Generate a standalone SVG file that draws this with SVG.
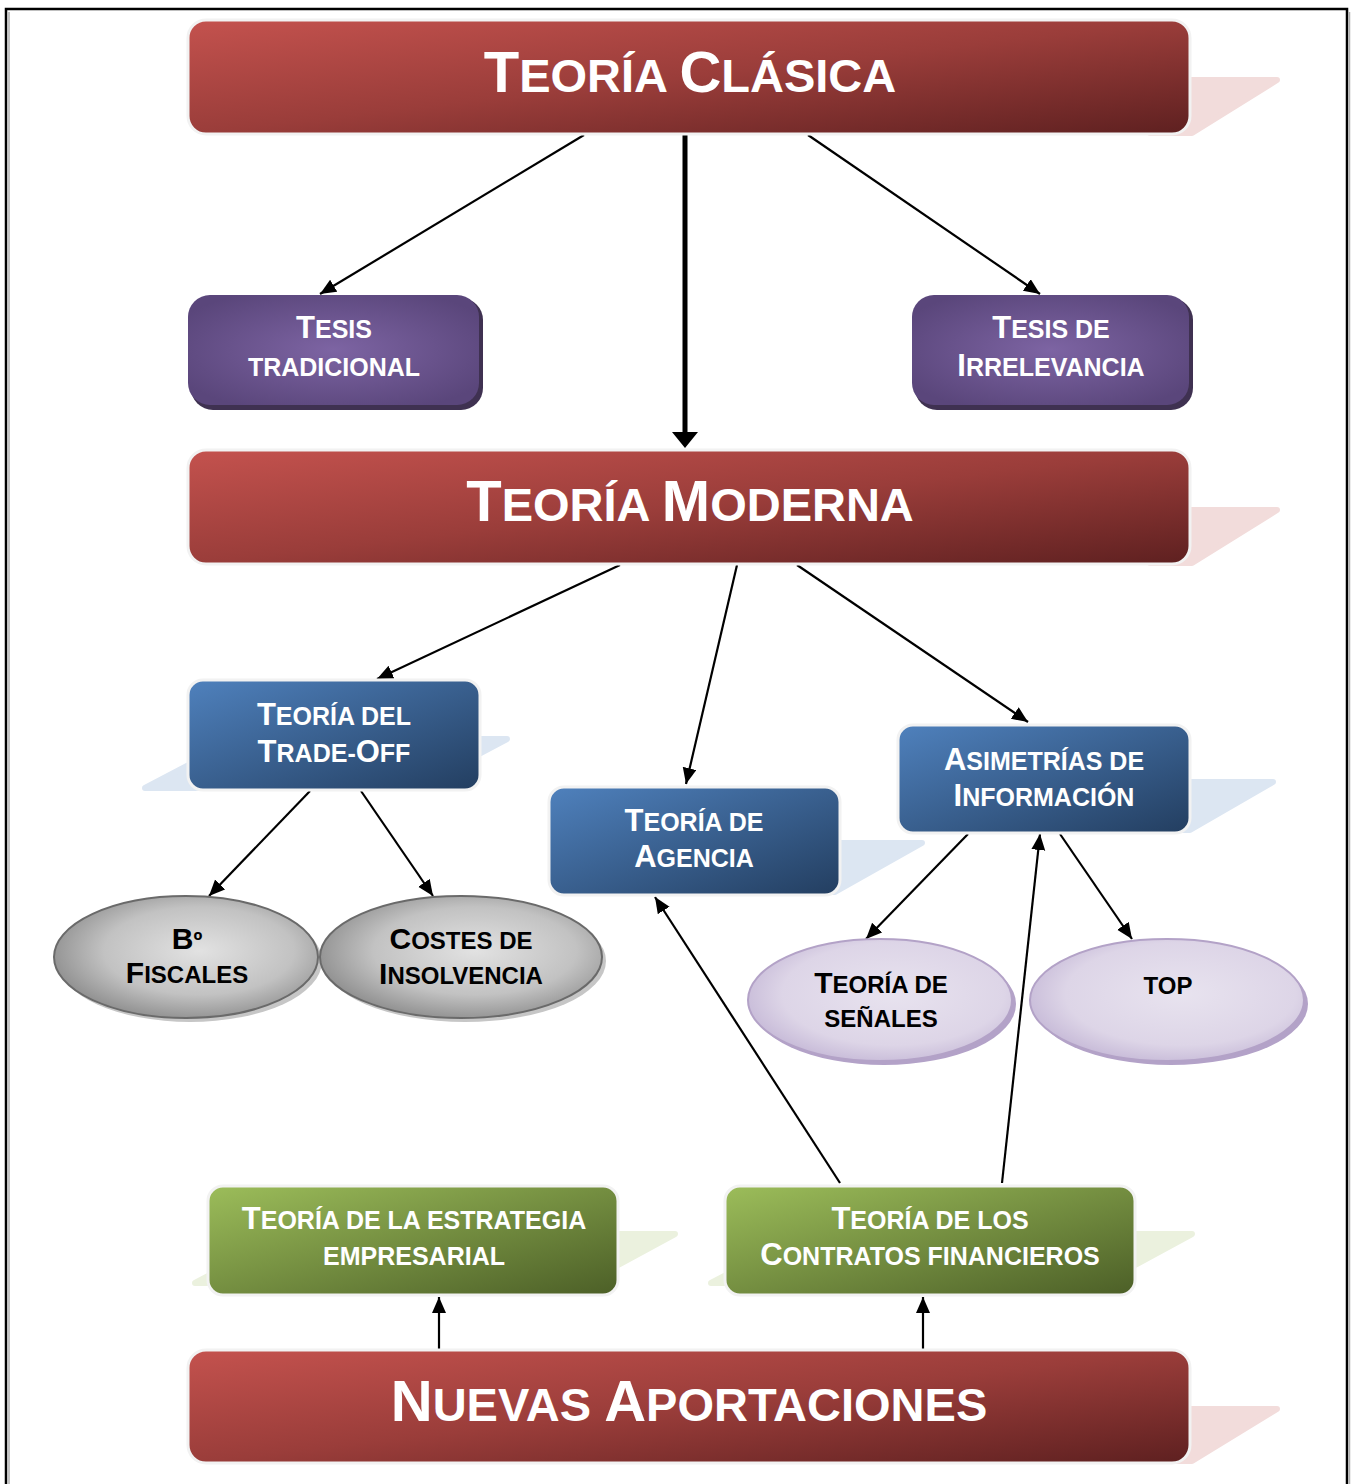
<svg xmlns="http://www.w3.org/2000/svg" width="1354" height="1484" viewBox="0 0 1354 1484">
  <defs>
    <linearGradient id="gRed" x1="0" y1="0" x2="1" y2="1">
      <stop offset="0" stop-color="#c4524e"/>
      <stop offset="0.5" stop-color="#9a3d3a"/>
      <stop offset="1" stop-color="#5e2020"/>
    </linearGradient>
    <linearGradient id="gBlue" x1="0" y1="0" x2="1" y2="1">
      <stop offset="0" stop-color="#4f81bd"/>
      <stop offset="1" stop-color="#233e60"/>
    </linearGradient>
    <linearGradient id="gGreen" x1="0" y1="0" x2="1" y2="1">
      <stop offset="0" stop-color="#9cbd5a"/>
      <stop offset="1" stop-color="#4c5f27"/>
    </linearGradient>
    <radialGradient id="gPurple" cx="0.5" cy="0.5" r="0.6">
      <stop offset="0" stop-color="#7d64a3"/>
      <stop offset="1" stop-color="#5a467b"/>
    </radialGradient>
    <radialGradient id="gGray" cx="0.55" cy="0.45" r="0.6">
      <stop offset="0" stop-color="#e2e2e2"/>
      <stop offset="0.6" stop-color="#c2c2c2"/>
      <stop offset="1" stop-color="#8a8a8a"/>
    </radialGradient>
    <radialGradient id="gLilac" cx="0.55" cy="0.45" r="0.6">
      <stop offset="0" stop-color="#e8e3ef"/>
      <stop offset="0.7" stop-color="#ddd5e7"/>
      <stop offset="1" stop-color="#c4b7d6"/>
    </radialGradient>
    <marker id="arr" markerUnits="userSpaceOnUse" markerWidth="18" markerHeight="16" refX="16" refY="7" orient="auto">
      <path d="M0,0 L16,7 L0,14 z" fill="#000"/>
    </marker>
  </defs>
  <style>
    .t { font-family: "Liberation Sans", Arial, sans-serif; font-weight: bold; text-anchor: middle; }
    .big { font-size: 47px; fill: #fff; }
    .big .c { font-size: 58px; }
    .mid { font-size: 25px; fill: #fff; }
    .mid .c { font-size: 31px; }
    .ell { font-size: 24px; fill: #000; }
    .ell .c { font-size: 30px; }
    .edge { stroke: #f2f2f2; stroke-width: 3; }
    .wire { stroke: #000; stroke-width: 2.2; fill: none; marker-end: url(#arr); }
    .shR { fill: #f2dcdb; stroke: #f2dcdb; stroke-width: 6; stroke-linejoin: round; }
    .shB { fill: #dce6f2; stroke: #dce6f2; stroke-width: 6; stroke-linejoin: round; }
    .shG { fill: #ebf1de; stroke: #ebf1de; stroke-width: 6; stroke-linejoin: round; }
  </style>

  <!-- page frame -->
  <rect x="6" y="9" width="1341" height="1490" fill="#fff" stroke="#000" stroke-width="2.5"/>
  <line x1="9" y1="12" x2="9" y2="1484" stroke="#b0b0b0" stroke-width="1.5"/>
  <line x1="1349.5" y1="12" x2="1349.5" y2="1484" stroke="#b0b0b0" stroke-width="1.5"/>

  <!-- connectors -->
  <g id="connectors">
    <line class="wire" x1="584" y1="135" x2="320" y2="294"/>
    <line x1="685" y1="135" x2="685" y2="434" stroke="#000" stroke-width="5"/>
    <polygon points="672,432 698,432 685,448" fill="#000"/>
    <line class="wire" x1="808" y1="135" x2="1040" y2="294"/>
    <line class="wire" x1="620" y1="565" x2="377" y2="679"/>
    <line class="wire" x1="737" y1="565" x2="686" y2="784"/>
    <line class="wire" x1="797" y1="565" x2="1028" y2="722"/>
    <line class="wire" x1="310" y1="791" x2="209" y2="896"/>
    <line class="wire" x1="361" y1="791" x2="433" y2="896"/>
    <line class="wire" x1="968" y1="834" x2="866" y2="939"/>
    <line class="wire" x1="1060" y1="834" x2="1132" y2="939"/>
    <line class="wire" x1="840" y1="1183" x2="655" y2="897"/>
    <line class="wire" x1="1002" y1="1183" x2="1040" y2="834"/>
    <line class="wire" x1="439" y1="1350" x2="439" y2="1297"/>
    <line class="wire" x1="923" y1="1350" x2="923" y2="1297"/>
  </g>

  <!-- Teoría Clásica -->
  <g id="teoria-clasica">
    <polygon class="shR" points="1150,80 1277,80 1192,133 1150,133"/>
    <rect class="edge" x="188" y="20" width="1002" height="114" rx="18" fill="url(#gRed)"/>
    <text class="t big" x="690" y="92"><tspan class="c">T</tspan>EORÍA <tspan class="c">C</tspan>LÁSICA</text>
  </g>

  <!-- Tesis tradicional -->
  <g id="tesis-tradicional">
    <rect x="191" y="298" width="292" height="112" rx="22" fill="#3f3151"/>
    <rect x="188" y="295" width="291" height="110" rx="22" fill="url(#gPurple)"/>
    <text class="t mid" x="334" y="338"><tspan class="c">T</tspan>ESIS</text>
    <text class="t mid" x="334" y="376">TRADICIONAL</text>
  </g>

  <!-- Tesis de irrelevancia -->
  <g id="tesis-irrelevancia">
    <rect x="915" y="298" width="278" height="112" rx="22" fill="#3f3151"/>
    <rect x="912" y="295" width="277" height="110" rx="22" fill="url(#gPurple)"/>
    <text class="t mid" x="1051" y="338"><tspan class="c">T</tspan>ESIS DE</text>
    <text class="t mid" x="1051" y="376"><tspan class="c">I</tspan>RRELEVANCIA</text>
  </g>

  <!-- Teoría Moderna -->
  <g id="teoria-moderna">
    <polygon class="shR" points="1150,510 1277,510 1192,563 1150,563"/>
    <rect class="edge" x="188" y="450" width="1002" height="114" rx="18" fill="url(#gRed)"/>
    <text class="t big" x="690" y="521"><tspan class="c">T</tspan>EORÍA <tspan class="c">M</tspan>ODERNA</text>
  </g>

  <!-- Teoría del Trade-Off -->
  <g id="trade-off">
    <polygon class="shB" points="238,739 507,739 415,788 145,788"/>
    <rect class="edge" x="188" y="680" width="292" height="110" rx="15" fill="url(#gBlue)"/>
    <text class="t mid" x="334" y="725"><tspan class="c">T</tspan>EORÍA DEL</text>
    <text class="t mid" x="334" y="762"><tspan class="c">T</tspan>RADE-<tspan class="c">O</tspan>FF</text>
  </g>

  <!-- Teoría de Agencia -->
  <g id="agencia">
    <polygon class="shB" points="700,843 922,843 835,892 650,892"/>
    <rect class="edge" x="549" y="787" width="291" height="108" rx="15" fill="url(#gBlue)"/>
    <text class="t mid" x="694" y="831"><tspan class="c">T</tspan>EORÍA DE</text>
    <text class="t mid" x="694" y="867"><tspan class="c">A</tspan>GENCIA</text>
  </g>

  <!-- Asimetrías de Información -->
  <g id="asimetrias">
    <polygon class="shB" points="1000,782 1273,782 1190,830 950,830"/>
    <rect class="edge" x="898" y="725" width="292" height="108" rx="15" fill="url(#gBlue)"/>
    <text class="t mid" x="1044" y="770"><tspan class="c">A</tspan>SIMETRÍAS DE</text>
    <text class="t mid" x="1044" y="806"><tspan class="c">I</tspan>NFORMACIÓN</text>
  </g>

  <!-- Bº Fiscales -->
  <g id="bo-fiscales">
    <ellipse cx="190" cy="961" rx="132" ry="61" fill="#c6c6c6"/>
    <ellipse cx="186" cy="957" rx="132" ry="61" fill="url(#gGray)" stroke="#6a6a6a" stroke-width="2"/>
    <text class="t ell" x="187" y="949"><tspan class="c">B</tspan>º</text>
    <text class="t ell" x="187" y="983"><tspan class="c">F</tspan>ISCALES</text>
  </g>

  <!-- Costes de Insolvencia -->
  <g id="costes-insolvencia">
    <ellipse cx="465" cy="961" rx="141" ry="61" fill="#c6c6c6"/>
    <ellipse cx="461" cy="957" rx="141" ry="61" fill="url(#gGray)" stroke="#6a6a6a" stroke-width="2"/>
    <text class="t ell" x="461" y="949"><tspan class="c">C</tspan>OSTES DE</text>
    <text class="t ell" x="461" y="984"><tspan class="c">I</tspan>NSOLVENCIA</text>
  </g>

  <!-- Teoría de señales -->
  <g id="senales">
    <ellipse cx="884" cy="1004" rx="132" ry="61" fill="#b3a2c8"/>
    <ellipse cx="880" cy="1000" rx="132" ry="61" fill="url(#gLilac)" stroke="#b3a2c7" stroke-width="2"/>
    <text class="t ell" x="881" y="993"><tspan class="c">T</tspan>EORÍA DE</text>
    <text class="t ell" x="881" y="1027">SEÑALES</text>
  </g>

  <!-- TOP -->
  <g id="top">
    <ellipse cx="1171" cy="1004" rx="137" ry="61" fill="#b3a2c8"/>
    <ellipse cx="1167" cy="1000" rx="137" ry="61" fill="url(#gLilac)" stroke="#b3a2c7" stroke-width="2"/>
    <text class="t ell" x="1168" y="994">TOP</text>
  </g>

  <!-- Teoría de la estrategia empresarial -->
  <g id="estrategia">
    <polygon class="shG" points="287,1234 675,1234 585,1283 195,1283"/>
    <rect class="edge" x="208" y="1186" width="410" height="109" rx="15" fill="url(#gGreen)"/>
    <text class="t mid" x="414" y="1229"><tspan class="c">T</tspan>EORÍA DE LA ESTRATEGIA</text>
    <text class="t mid" x="414" y="1265">EMPRESARIAL</text>
  </g>

  <!-- Teoría de los contratos financieros -->
  <g id="contratos">
    <polygon class="shG" points="804,1234 1192,1234 1102,1283 711,1283"/>
    <rect class="edge" x="725" y="1186" width="410" height="109" rx="15" fill="url(#gGreen)"/>
    <text class="t mid" x="930" y="1229"><tspan class="c">T</tspan>EORÍA DE LOS</text>
    <text class="t mid" x="930" y="1265"><tspan class="c">C</tspan>ONTRATOS FINANCIEROS</text>
  </g>

  <!-- Nuevas Aportaciones -->
  <g id="nuevas-aportaciones">
    <polygon class="shR" points="1150,1409 1277,1409 1192,1461 1150,1461"/>
    <rect class="edge" x="188" y="1350" width="1002" height="113" rx="18" fill="url(#gRed)"/>
    <text class="t big" x="689" y="1421"><tspan class="c">N</tspan>UEVAS <tspan class="c">A</tspan>PORTACIONES</text>
  </g>
</svg>
